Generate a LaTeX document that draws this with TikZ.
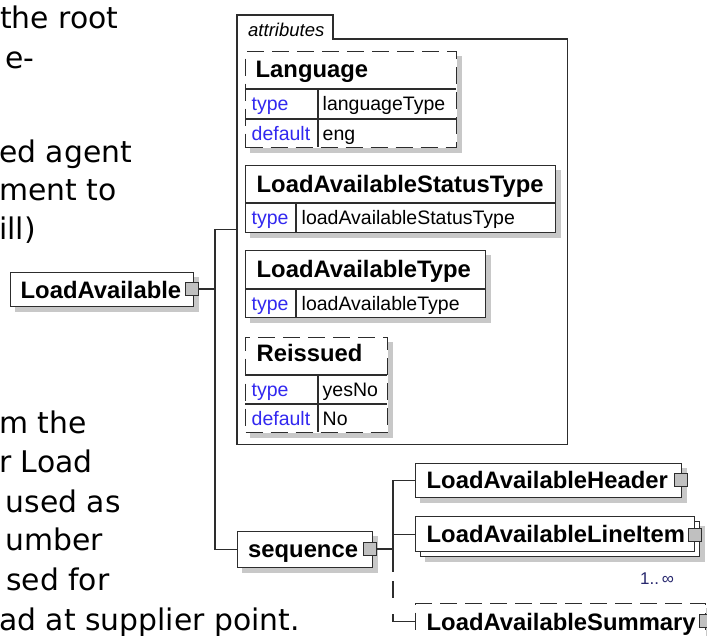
\documentclass[tikz,border=0pt]{standalone}
\usepackage{fontspec}
\setmainfont{Liberation Sans}
\newfontfamily\bigfont{DejaVu Sans}
\usetikzlibrary{backgrounds}
\definecolor{lineC}{RGB}{45,45,45}
\definecolor{shadeC}{RGB}{200,200,200}
\definecolor{plusC}{RGB}{192,192,192}
\definecolor{kwC}{RGB}{50,40,240}
\definecolor{occC}{RGB}{40,40,110}
\tikzset{
  elem/.style={draw=lineC, line width=1.3pt, fill=white, rectangle, inner sep=0pt, anchor=north west},
  opt/.style={elem, dash pattern=on 17pt off 8pt},
  plusbox/.style={draw=lineC, fill=plusC, line width=1.1pt, rectangle, minimum size=13pt, inner sep=0pt},
  conn/.style={draw=lineC, line width=1.3pt},
  inner/.style={draw=lineC, line width=1.1pt},
  ttl/.style={font=\fontsize{23.8}{28}\selectfont\bfseries, inner sep=0pt, anchor=base west},
  kw/.style={font=\fontsize{19.5}{23}\selectfont, text=kwC, inner sep=0pt, anchor=base west},
  val/.style={font=\fontsize{19.5}{23}\selectfont, inner sep=0pt, anchor=base west},
  big/.style={font=\bigfont\fontsize{29.8}{35}\selectfont, inner sep=0pt, anchor=base west},
}
\begin{document}
\begin{tikzpicture}[x=1pt,y=-1pt]
\useasboundingbox (0,0) rectangle (707,635);
\clip (0,0) rectangle (707,635);

% left text fragments
\node[big] (p1) at (0,28) {the root};
\node[big] (p2) at (5,68) {e-};
\node[big] (p3) at (-1,162) {ed agent};
\node[big] (p4) at (-1,200) {ment to};
\node[big] (p5) at (-1,239) {ill)};
\node[big] (p6) at (-1,433) {m the};
\node[big] (p7) at (-1,472) {r Load};
\node[big] (p8) at (5.5,512) {used as};
\node[big] (p9) at (5,550) {umber};
\node[big] (p10) at (6,590) {sed for};
\node[big] (p11) at (-1,630) {ad at supplier point.};

% attributes container
\node[minimum width=330pt, minimum height=429pt, inner sep=0pt, anchor=north west] (attrs) at (237,15) {};
\draw[conn] (attrs.south west) -- (attrs.north west) -- ++(96,0) -- ++(0,24) -| (attrs.south east) -- cycle;
\node[font=\fontsize{18.5}{22}\selectfont\itshape, inner sep=0pt, anchor=base west] (attrlbl) at (248,36) {attributes};

% Language
\node[opt, minimum width=211pt, minimum height=96pt] (lang) at (245,51) {};
\draw[inner] (245,89) -- (456,89);
\draw[inner] (245,119) -- (456,119);
\draw[inner] (318,89) -- (318,147);
\node[ttl] (langT) at (255.5,77) {Language};
\node[kw] (langK1) at (251.5,110) {type};
\node[val] (langV1) at (322.5,110) {languageType};
\node[kw] (langK2) at (251.5,140) {default};
\node[val] (langV2) at (322.5,140) {eng};

% LoadAvailableStatusType
\node[elem, minimum width=310pt, minimum height=67pt] (stat) at (245,165) {};
\draw[inner] (245,203) -- (555,203);
\draw[inner] (296,203) -- (296,232);
\node[ttl] (statT) at (256.5,192) {LoadAvailableStatusType};
\node[kw] (statK) at (251.5,224) {type};
\node[val] (statV) at (301.5,224) {loadAvailableStatusType};

% LoadAvailableType
\node[elem, minimum width=240pt, minimum height=67pt] (ltype) at (245,250) {};
\draw[inner] (245,289) -- (485,289);
\draw[inner] (296,289) -- (296,317);
\node[ttl] (ltypeT) at (256.5,277) {LoadAvailableType};
\node[kw] (ltypeK) at (251.5,310) {type};
\node[val] (ltypeV) at (301.5,310) {loadAvailableType};

% Reissued
\node[opt, minimum width=142pt, minimum height=95pt] (reis) at (245,337) {};
\draw[inner] (245,375) -- (387,375);
\draw[inner] (245,404) -- (387,404);
\draw[inner] (318,375) -- (318,432);
\node[ttl] (reisT) at (256.5,361) {Reissued};
\node[kw] (reisK1) at (251.5,396) {type};
\node[val] (reisV1) at (322.5,396) {yesNo};
\node[kw] (reisK2) at (251.5,425) {default};
\node[val] (reisV2) at (322.5,425) {No};

% LoadAvailable root
\node[elem, minimum width=183pt, minimum height=34pt] (la) at (10,272) {};
\node[ttl] (laT) at (20.5,298) {LoadAvailable};
\node[plusbox] (laplus) at (192,289) {};

% sequence
\node[elem, minimum width=135pt, minimum height=36pt] (seq) at (237,531) {};
\node[ttl] (seqT) at (248,557) {sequence};
\node[plusbox] (seqplus) at (370,549) {};

% children
\node[elem, minimum width=266pt, minimum height=34pt] (hdr) at (415,463) {};
\node[ttl] (hdrT) at (426.5,488) {LoadAvailableHeader};
\node[plusbox] (hdrplus) at (681,480) {};

\node[elem, minimum width=279pt, minimum height=35pt] (lib2) at (420,521) {};
\node[elem, minimum width=279pt, minimum height=35pt] (lib) at (415,516) {};
\node[ttl] (libT) at (426.5,542) {LoadAvailableLineItem};
\node[plusbox] (libplus) at (695,535) {};
\node[font=\fontsize{17}{20}\selectfont, text=occC, inner sep=0pt, anchor=base west] (occ) at (640,584) {1..\,∞};

\node[opt, minimum width=290pt, minimum height=36pt] (sum) at (415,603) {};
\node[ttl] (sumT) at (426.5,630) {LoadAvailableSummary};
\node[plusbox] (sumplus) at (706,621) {};

% shadows
\begin{pgfonlayer}{background}
\foreach \n in {lang,stat,ltype,reis,la,seq,hdr,lib2,sum}
  \fill[shadeC] ([shift={(5,5)}]\n.north west) rectangle ([shift={(5,5)}]\n.south east);
\end{pgfonlayer}

% connectors
\coordinate (jA) at (215,289);
\draw[conn] (laplus.east) -- (jA);
\draw[conn] (attrs.west) -| (jA) |- (seq.west);
\coordinate (jB) at (393,549);
\coordinate (jC) at (393,572);
\draw[conn] (seqplus.east) -- (jB);
\draw[conn] (hdr.west) -| (jB);
\draw[conn] (lib.west) -| (jB);
\draw[conn] (jB) -- (jC);
\draw[conn, dash pattern=on 30pt off 16pt on 17pt off 100pt] (sum.west) -| (jC);
\end{tikzpicture}
\end{document}
